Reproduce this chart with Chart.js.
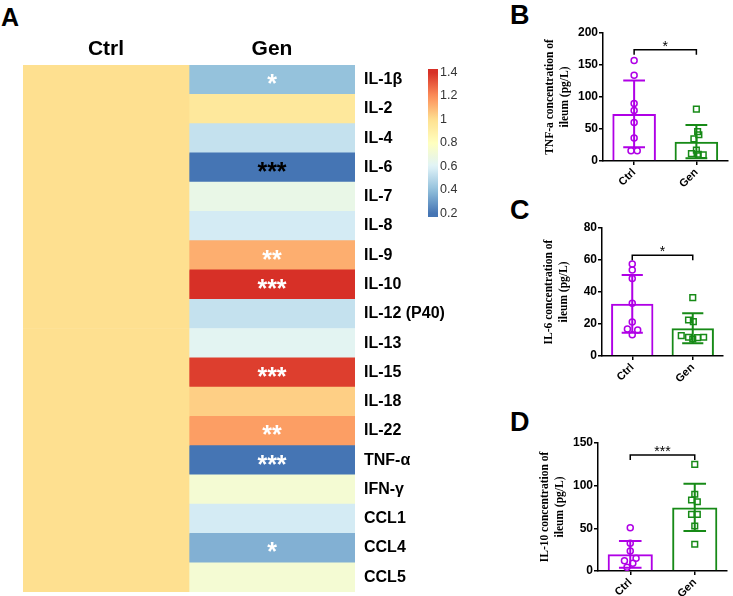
<!DOCTYPE html>
<html>
<head>
<meta charset="utf-8">
<script src="https://cdn.jsdelivr.net/npm/chart.js@4.4.0/dist/chart.umd.min.js"></script>
<style>
body{margin:0;background:#fff;width:733px;height:596px;position:relative;overflow:hidden}
.box{position:absolute}
.tag{position:absolute;font:bold 27px Arial,"Liberation Sans",sans-serif;line-height:1;color:#000}
</style>
</head>
<body>
<div class="tag" style="left:1px;top:5px;font-size:25px">A</div>
<div class="tag" style="left:510px;top:2px">B</div>
<div class="tag" style="left:510px;top:197px">C</div>
<div class="tag" style="left:510px;top:409px">D</div>

<div class="box" style="left:0;top:0;width:470px;height:596px"><canvas id="heat"></canvas></div>
<div class="box" style="left:418px;top:56px;width:50px;height:175px"><canvas id="scaleBar"></canvas></div>
<div class="box" style="left:470px;top:0;width:263px;height:195px"><canvas id="chartB"></canvas></div>
<div class="box" style="left:470px;top:195px;width:263px;height:196px"><canvas id="chartC"></canvas></div>
<div class="box" style="left:470px;top:410px;width:263px;height:186px"><canvas id="chartD"></canvas></div>

<script>
// ---- heatmap (panel A) ----
const cytokines = ["IL-1β","IL-2","IL-4","IL-6","IL-7","IL-8","IL-9","IL-10","IL-12 (P40)",
                   "IL-13","IL-15","IL-18","IL-22","TNF-α","IFN-γ","CCL1","CCL4","CCL5"];
const groups = ["Ctrl","Gen"];
const ctrlRatio = [1,1,1,1,1,1,1,1,1,1,1,1,1,1,1,1,1,1];
const genRatio  = [0.41,0.95,0.53,0.2,0.66,0.57,1.12,1.4,0.53,0.62,1.37,1.04,1.16,0.2,0.73,0.57,0.36,0.73];
const genStars  = ["*","","","***","","","**","***","","","***","","**","***","","","*",""];
const starInk   = ["#fff","#fff","#fff","#000","#fff","#fff","#fff","#fff","#fff","#fff","#fff","#fff","#fff","#fff","#fff","#fff","#fff","#fff"];
const colorTicks = [0.2,0.4,0.6,0.8,1,1.2,1.4];

// ---- ELISA panels ----
const groupLabels = ["Ctrl","Gen"];
const tnfMean = [73.6,30.2], tnfSd = [52.3,26];
const tnfCtrl = [157,134,90,79,60,36,16,16], tnfCtrlDx = [0,0,0,0,0,0,-0.05,0.05];
const tnfGen  = [81,46,41,34.5,17,11.5,10.5,9.5], tnfGenDx = [0,0.02,0.04,-0.04,0,-0.08,0.03,0.11];

const il6Mean = [32.6,17.3], il6Sd = [18,9.4];
const il6Ctrl = [57.5,53.7,48.5,32.9,21.2,16.9,16.2,13.3], il6CtrlDx = [0,0,0,0,0,-0.08,0.09,0];
const il6Gen  = [36.5,22.5,21.5,12.7,11.7,10.6,11.5,11.7], il6GenDx = [0,-0.07,0.01,-0.19,-0.07,0,0.08,0.18];

const il10Mean = [19.5,74.5], il10Sd = [15.6,27.7];
const il10Ctrl = [50.8,32.4,23.4,14.8,12.1,9,4.3], il10CtrlDx = [0,0,0,0.09,-0.09,0.04,-0.05];
const il10Gen  = [125,89.9,83.2,81.2,66.4,66.4,52.7,31.3], il10GenDx = [0,0,-0.05,0.04,-0.05,0.04,0,0];

const rampStops = [[0.2,[69,117,180]],[0.4,[145,191,219]],[0.6,[224,243,248]],[0.8,[255,255,191]],
                   [1.0,[254,224,144]],[1.2,[252,141,89]],[1.4,[215,48,39]]];
function rampColor(v){
  if(v <= rampStops[0][0]) return "rgb(" + rampStops[0][1].join(",") + ")";
  for(let i=1;i<rampStops.length;i++){
    if(v <= rampStops[i][0]){
      const a = rampStops[i-1], b = rampStops[i], t = (v-a[0])/(b[0]-a[0]);
      const c = a[1].map((x,k)=>Math.round(x + (b[1][k]-x)*t));
      return "rgb(" + c.join(",") + ")";
    }
  }
  return "rgb(" + rampStops[rampStops.length-1][1].join(",") + ")";
}

const starPlugin = {
  id: "stars",
  afterDatasetsDraw(chart){
    const ctx = chart.ctx, meta = chart.getDatasetMeta(1), size = 25;
    ctx.save();
    ctx.font = "bold " + size + "px Arial";
    ctx.textAlign = "center";
    ctx.textBaseline = "alphabetic";
    meta.data.forEach((bar,i)=>{
      if(!genStars[i]) return;
      ctx.fillStyle = starInk[i];
      ctx.fillText(genStars[i], (bar.x+bar.base)/2, bar.y + size*0.49);
    });
    ctx.restore();
  }
};

new Chart(document.getElementById("heat"), {
  type: "bar",
  data: {
    labels: cytokines,
    datasets: [
      { label: "Ctrl", data: cytokines.map(()=>[0,1]), backgroundColor: ctrlRatio.map(rampColor) },
      { label: "Gen",  data: cytokines.map(()=>[1,2]), backgroundColor: genRatio.map(rampColor) }
    ]
  },
  options: {
    indexAxis: "y",
    animation: false,
    responsive: true,
    maintainAspectRatio: false,
    layout: { padding: { left: 23, bottom: 4, top: 0, right: 0 } },
    plugins: { legend: { display: false }, tooltip: { enabled: false } },
    datasets: { bar: { barPercentage: 1, categoryPercentage: 1, borderWidth: 0, grouped: false } },
    scales: {
      x: {
        type: "linear", position: "top", min: 0, max: 2,
        grid: { display: false }, border: { display: false },
        afterBuildTicks: s => { s.ticks = [{value:0.5},{value:1.5}]; },
        ticks: { callback: v => groups[Math.floor(v)], font: { family: "Arial", size: 21, weight: "bold" }, color: "#000", padding: -5 },
        afterFit: s => { s.height = 65; s.paddingLeft = 0; s.paddingRight = 0; }
      },
      y: {
        position: "right",
        grid: { display: false }, border: { display: false },
        ticks: { font: { family: "Arial", size: 16, weight: "bold" }, color: "#000", padding: 1 },
        afterFit: s => { s.width = 115; s.paddingTop = 0; s.paddingBottom = 0; }
      }
    }
  },
  plugins: [starPlugin]
});

// ---- colour scale bar ----
const barLow = 0.17, barHigh = 1.43;
function scaleGradient(chart){
  const area = chart.chartArea;
  if(!area) return rampColor(1);
  const y = chart.scales.y;
  const g = chart.ctx.createLinearGradient(0, y.getPixelForValue(barLow), 0, y.getPixelForValue(barHigh));
  for(let i=0;i<=40;i++){
    const v = barLow + (barHigh-barLow)*i/40;
    g.addColorStop(i/40, rampColor(v));
  }
  return g;
}
new Chart(document.getElementById("scaleBar"), {
  type: "bar",
  data: { labels: [""], datasets: [{ data: [[barLow, barHigh]], backgroundColor: c => scaleGradient(c.chart),
          barPercentage: 1, categoryPercentage: 1, borderWidth: 0 }] },
  options: {
    animation: false, responsive: true, maintainAspectRatio: false,
    layout: { padding: { left: 10, top: 13, bottom: 14, right: 0 } },
    plugins: { legend: { display: false }, tooltip: { enabled: false } },
    scales: {
      x: { display: false },
      y: {
        position: "right", min: barLow, max: barHigh,
        afterBuildTicks: s => { s.ticks = colorTicks.map(v => ({ value: v })); },
        grid: { display: false }, border: { display: false },
        ticks: { font: { family: "Arial", size: 12.5 }, color: "#333", padding: -6, callback: v => String(v) },
        afterFit: s => { s.width = 30; }
      }
    }
  }
});

// ---- bar + dot panels ----
const purple = "#B000E6", green = "#178A17";

function marksPlugin(p){
  return {
    id: "marks",
    afterDatasetsDraw(chart){
      const ctx = chart.ctx, x = chart.scales.x, y = chart.scales.y;
      const bars = chart.getDatasetMeta(0).data;
      ctx.save();
      ctx.lineWidth = 2;
      p.mean.forEach((m,i)=>{
        const cx = x.getPixelForValue(i), half = bars[i].width*0.25;
        const top = y.getPixelForValue(m + p.sd[i]), bot = y.getPixelForValue(Math.max(m - p.sd[i], 0));
        ctx.strokeStyle = i === 0 ? purple : green;
        ctx.beginPath();
        ctx.moveTo(cx, top); ctx.lineTo(cx, bot);
        ctx.moveTo(cx-half, top); ctx.lineTo(cx+half, top);
        ctx.moveTo(cx-half, bot); ctx.lineTo(cx+half, bot);
        ctx.stroke();
      });
      const x0 = x.getPixelForValue(0), x1 = x.getPixelForValue(1), yb = y.getPixelForValue(p.bracket);
      ctx.strokeStyle = "#000"; ctx.lineWidth = 1.5;
      ctx.beginPath();
      ctx.moveTo(x0, yb+5); ctx.lineTo(x0, yb); ctx.lineTo(x1, yb); ctx.lineTo(x1, yb+5);
      ctx.stroke();
      ctx.fillStyle = "#000"; ctx.font = "14px Arial"; ctx.textAlign = "center"; ctx.textBaseline = "alphabetic";
      ctx.fillText(p.sig, (x0+x1)/2, yb + 1);
      ctx.restore();
    }
  };
}

function makePanel(id, p){
  new Chart(document.getElementById(id), {
    type: "bar",
    data: {
      labels: groupLabels,
      datasets: [
        { type: "bar", data: p.mean, backgroundColor: "rgba(255,255,255,0)", borderColor: [purple, green],
          borderWidth: 2, barPercentage: 0.7, categoryPercentage: 1, grouped: false, order: 2 },
        { type: "scatter", xAxisID: "x2", data: p.ctrl.map((v,i)=>({ x: 0 + p.ctrlDx[i], y: v })),
          pointStyle: "circle", pointRadius: 3, borderWidth: 1.5, borderColor: purple, backgroundColor: "rgba(255,255,255,0)", order: 1 },
        { type: "scatter", xAxisID: "x2", data: p.gen.map((v,i)=>({ x: 1 + p.genDx[i], y: v })),
          pointStyle: "rect", pointRadius: 4, borderWidth: 1.5, borderColor: green, backgroundColor: "rgba(255,255,255,0)", order: 1 }
      ]
    },
    options: {
      animation: false, responsive: true, maintainAspectRatio: false,
      layout: { padding: { left: p.padLeft, top: 33, right: p.padRight, bottom: 0 } },
      plugins: { legend: { display: false }, tooltip: { enabled: false } },
      scales: {
        x: {
          offset: true,
          grid: { offset: false, drawOnChartArea: false, tickLength: 4, color: "#000", lineWidth: 1.5 },
          border: { display: true, color: "#000", width: 1.5 },
          ticks: { minRotation: 45, maxRotation: 45, font: { family: "Arial", size: 11, weight: "bold" }, color: "#000", padding: 1 },
          afterFit: s => { s.height = p.xHeight; }
        },
        x2: { type: "linear", min: -0.5, max: 1.5, offset: false, grid: { offset: false }, display: false },
        y: {
          min: 0, max: p.max,
          ticks: { stepSize: p.step, font: { family: "Arial", size: 12, weight: "bold" }, color: "#000", padding: 1 },
          grid: { drawOnChartArea: false, tickLength: 4, color: "#000", lineWidth: 1.5 },
          border: { display: true, color: "#000", width: 1.5 },
          title: { display: true, text: p.title, color: "#000", padding: { top: 3, bottom: 0 },
                   font: { family: "'Liberation Serif','Times New Roman',serif", size: 11.5, weight: "bold", lineHeight: 1.25 } },
          afterFit: s => { s.width = 63; }
        }
      }
    },
    plugins: [marksPlugin(p)]
  });
}

makePanel("chartB", { mean: tnfMean, sd: tnfSd, ctrl: tnfCtrl, ctrlDx: tnfCtrlDx, gen: tnfGen, genDx: tnfGenDx,
  max: 200, step: 50, bracket: 174, sig: "*", title: ["TNF-a concentration of","ileum (pg/L)"],
  padLeft: 70, padRight: 5, xHeight: 34 });
makePanel("chartC", { mean: il6Mean, sd: il6Sd, ctrl: il6Ctrl, ctrlDx: il6CtrlDx, gen: il6Gen, genDx: il6GenDx,
  max: 80, step: 20, bracket: 63, sig: "*", title: ["IL-6 concentration of","ileum (pg/L)"],
  padLeft: 69, padRight: 10, xHeight: 35 });
makePanel("chartD", { mean: il10Mean, sd: il10Sd, ctrl: il10Ctrl, ctrlDx: il10CtrlDx, gen: il10Gen, genDx: il10GenDx,
  max: 150, step: 50, bracket: 136, sig: "***", title: ["IL-10 concentration of","ileum (pg/L)"],
  padLeft: 65, padRight: 6, xHeight: 25 });
</script>
</body>
</html>
